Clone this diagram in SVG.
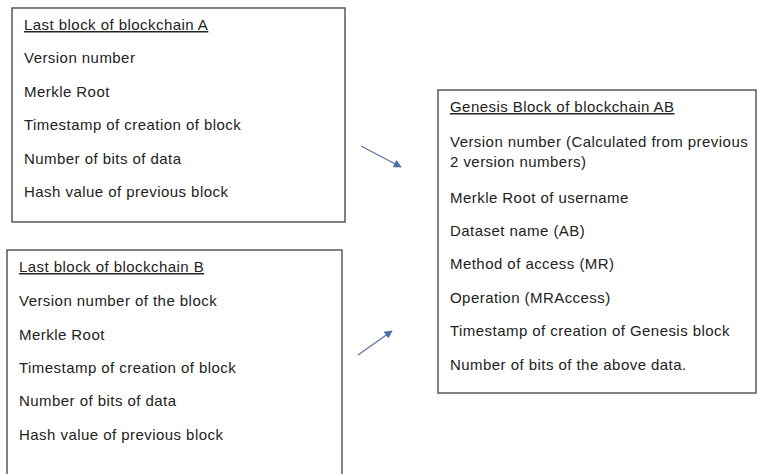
<svg xmlns="http://www.w3.org/2000/svg" width="759" height="474" viewBox="0 0 759 474">
  <style>
    .box { fill: #ffffff; stroke: #4d4d4d; stroke-width: 1.4; }
    .t { font-family: "Liberation Sans", Arial, sans-serif; font-size: 15px; letter-spacing: 0.45px; fill: #222222; }
    .h { text-decoration: underline; }
    .arrow { stroke: #5676ab; stroke-width: 1.3; fill: none; marker-end: url(#head); }
  </style>
  <defs>
    <marker id="head" viewBox="0 0 10 10" refX="9" refY="5" markerWidth="9" markerHeight="8" orient="auto" markerUnits="userSpaceOnUse">
      <path d="M0,0 L10,5 L0,10 z" fill="#4a6fa8"/>
    </marker>
  </defs>
  <rect width="759" height="474" fill="#ffffff"/>

  <g id="block-a">
    <rect class="box" x="12" y="8" width="333" height="214"/>
    <text class="t h" x="24" y="30">Last block of blockchain A</text>
    <text class="t" x="24" y="63">Version number</text>
    <text class="t" x="24" y="97">Merkle Root</text>
    <text class="t" x="24" y="130">Timestamp of creation of block</text>
    <text class="t" x="24" y="164">Number of bits of data</text>
    <text class="t" x="24" y="197">Hash value of previous block</text>
  </g>

  <g id="block-b">
    <rect class="box" x="7" y="250" width="335" height="240"/>
    <text class="t h" x="19" y="272">Last block of blockchain B</text>
    <text class="t" x="19" y="306">Version number of the block</text>
    <text class="t" x="19" y="340">Merkle Root</text>
    <text class="t" x="19" y="373">Timestamp of creation of block</text>
    <text class="t" x="19" y="406">Number of bits of data</text>
    <text class="t" x="19" y="440">Hash value of previous block</text>
  </g>

  <g id="genesis-ab">
    <rect class="box" x="438" y="90" width="318" height="303"/>
    <text class="t h" x="450" y="112">Genesis Block of blockchain AB</text>
    <text class="t" x="450" y="147">Version number (Calculated from previous</text>
    <text class="t" x="450" y="167">2 version numbers)</text>
    <text class="t" x="450" y="203">Merkle Root of username</text>
    <text class="t" x="450" y="236">Dataset name (AB)</text>
    <text class="t" x="450" y="269">Method of access (MR)</text>
    <text class="t" x="450" y="303">Operation (MRAccess)</text>
    <text class="t" x="450" y="336">Timestamp of creation of Genesis block</text>
    <text class="t" x="450" y="370">Number of bits of the above data.</text>
  </g>

  <g id="connectors">
    <line class="arrow" x1="361" y1="146" x2="401" y2="167"/>
    <line class="arrow" x1="358" y1="355" x2="392" y2="331"/>
  </g>
</svg>
